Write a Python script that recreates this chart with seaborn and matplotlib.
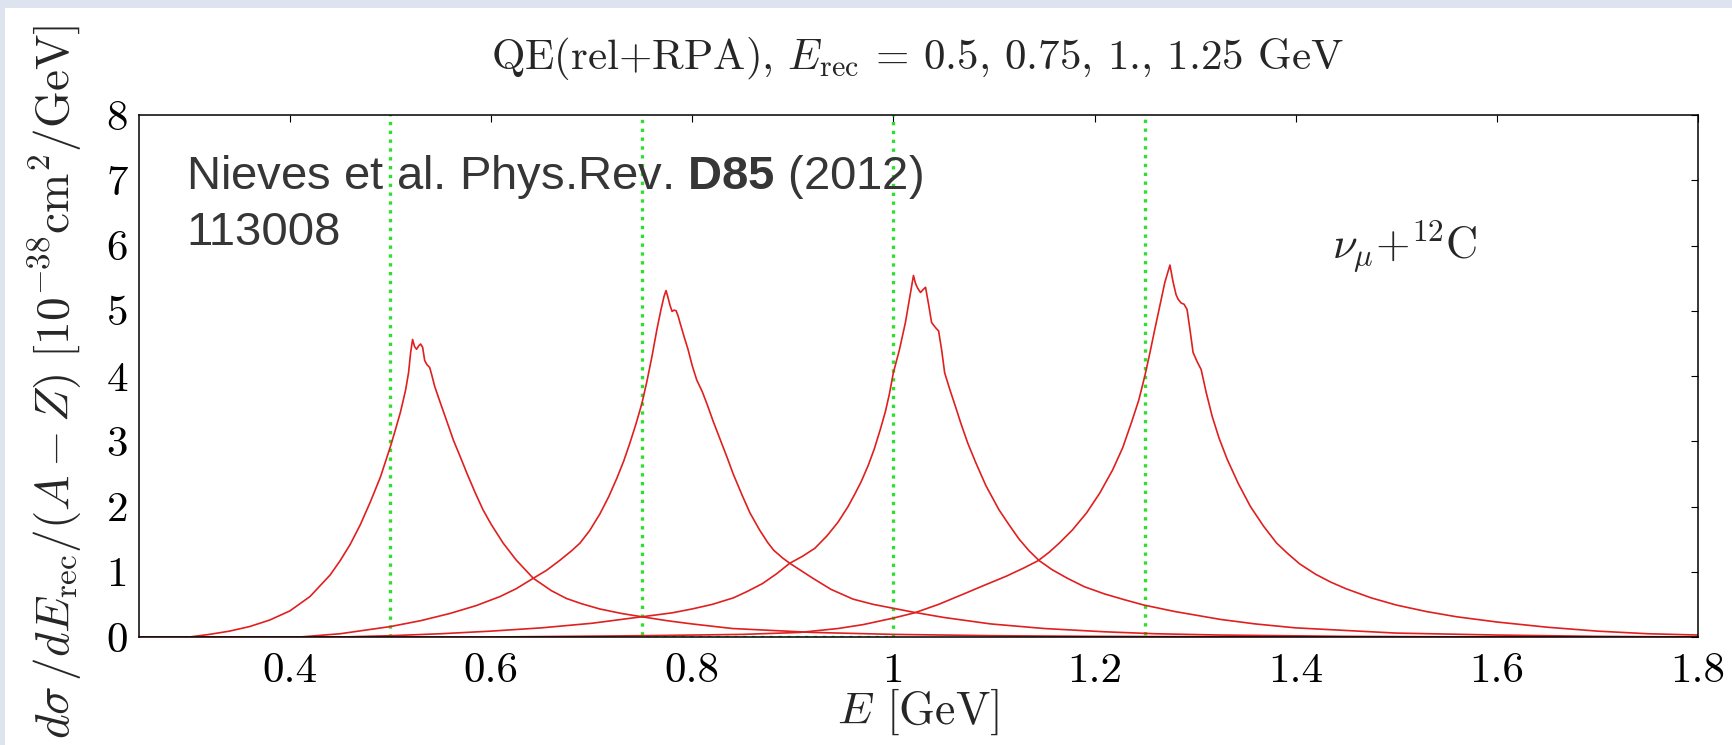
import numpy as np
import pandas as pd
import matplotlib
matplotlib.use("Agg")
import matplotlib.pyplot as plt
import seaborn as sns
from matplotlib.patches import Rectangle
from matplotlib.ticker import FixedLocator, FuncFormatter

# ---------------- data ----------------
E_REC = [0.5, 0.75, 1.0, 1.25]          # reconstructed energies (green dotted markers)

E_1 = [0.25, 0.30, 0.32, 0.34, 0.36, 0.38, 0.40, 0.42, 0.44, 0.45, 0.46, 0.47, 0.48, 0.49,
       0.50, 0.505, 0.51, 0.515, 0.518, 0.520, 0.522, 0.524, 0.526, 0.528, 0.530, 0.532,
       0.534, 0.536, 0.539, 0.541, 0.544, 0.548, 0.553, 0.558, 0.5625, 0.57, 0.576, 0.584,
       0.592, 0.60, 0.612, 0.625, 0.642, 0.66, 0.675, 0.69, 0.708, 0.73, 0.75, 0.775,
       0.80, 0.84, 0.88, 0.92, 1.0, 1.1, 1.2, 1.4, 1.8]
V_1 = [0.0, 0.0, 0.04, 0.09, 0.16, 0.26, 0.40, 0.62, 0.95, 1.17, 1.42, 1.72, 2.07, 2.45,
       2.92, 3.18, 3.45, 3.78, 4.05, 4.35, 4.56, 4.45, 4.41, 4.46, 4.49, 4.44,
       4.24, 4.18, 4.13, 4.02, 3.84, 3.66, 3.44, 3.22, 3.02, 2.74, 2.51, 2.22,
       1.95, 1.73, 1.44, 1.18, 0.90, 0.71, 0.59, 0.51, 0.43, 0.36, 0.31, 0.25,
       0.20, 0.13, 0.10, 0.07, 0.04, 0.02, 0.01, 0.0, 0.0]

E_2 = [0.25, 0.41, 0.45, 0.50, 0.53, 0.559, 0.585, 0.609, 0.625, 0.642, 0.655, 0.668, 0.68,
       0.6885, 0.698, 0.708, 0.717, 0.725, 0.732, 0.738, 0.744, 0.75, 0.755, 0.760, 0.765,
       0.769, 0.772, 0.774, 0.776, 0.778, 0.780, 0.782, 0.784, 0.786, 0.788, 0.792, 0.796,
       0.800, 0.8045, 0.81, 0.8145, 0.821, 0.828, 0.835, 0.841, 0.85, 0.8575, 0.867, 0.875,
       0.881, 0.89, 0.897, 0.907, 0.92, 0.938, 0.96, 0.98, 1.0, 1.02, 1.05, 1.097, 1.15,
       1.21, 1.26, 1.325, 1.45, 1.6, 1.8]
V_2 = [0.0, 0.0, 0.05, 0.16, 0.25, 0.36, 0.48, 0.62, 0.74, 0.90, 1.02, 1.17, 1.32,
       1.44, 1.63, 1.88, 2.15, 2.43, 2.70, 2.97, 3.26, 3.58, 3.92, 4.30, 4.72,
       5.02, 5.22, 5.31, 5.20, 5.08, 4.99, 5.01, 5.00, 4.92, 4.81, 4.60, 4.40,
       4.16, 3.94, 3.76, 3.58, 3.30, 3.02, 2.74, 2.49, 2.16, 1.90, 1.64, 1.45,
       1.33, 1.21, 1.13, 1.03, 0.90, 0.73, 0.58, 0.50, 0.44, 0.38, 0.30, 0.20, 0.13,
       0.08, 0.05, 0.03, 0.01, 0.0, 0.0]

E_3 = [0.25, 0.45, 0.5, 0.55, 0.6, 0.65, 0.7, 0.75, 0.78, 0.80, 0.82, 0.841, 0.855, 0.87,
       0.884, 0.897, 0.91, 0.922, 0.934, 0.945, 0.955, 0.962, 0.968, 0.975, 0.981, 0.987,
       0.992, 0.996, 1.0, 1.006, 1.012, 1.016, 1.020, 1.022, 1.024, 1.027, 1.030, 1.032,
       1.035, 1.038, 1.042, 1.045, 1.048, 1.051, 1.056, 1.062, 1.067, 1.074, 1.082, 1.092,
       1.105, 1.115, 1.125, 1.135, 1.145, 1.158, 1.173, 1.19, 1.21, 1.23, 1.249, 1.28,
       1.325, 1.36, 1.40, 1.45, 1.50, 1.6, 1.7, 1.8]
V_3 = [0.0, 0.0, 0.02, 0.05, 0.09, 0.14, 0.21, 0.31, 0.37, 0.43, 0.50, 0.60, 0.70, 0.82,
       0.97, 1.13, 1.24, 1.36, 1.55, 1.76, 2.00, 2.20, 2.38, 2.63, 2.88, 3.18,
       3.45, 3.72, 4.05, 4.40, 4.82, 5.18, 5.54, 5.42, 5.35, 5.28, 5.33, 5.36,
       5.10, 4.82, 4.74, 4.69, 4.40, 4.05, 3.80, 3.52, 3.28, 2.97, 2.67, 2.32,
       1.95, 1.72, 1.50, 1.32, 1.17, 1.03, 0.90, 0.77, 0.66, 0.57, 0.49, 0.39,
       0.27, 0.20, 0.14, 0.10, 0.06, 0.03, 0.01, 0.0]

E_4 = [0.25, 0.6, 0.75, 0.85, 0.907, 0.945, 0.97, 1.0, 1.021, 1.045, 1.07, 1.09, 1.112,
       1.13, 1.144, 1.155, 1.165, 1.178, 1.192, 1.205, 1.218, 1.228, 1.237, 1.244, 1.25,
       1.255, 1.26, 1.265, 1.27, 1.275, 1.278, 1.281, 1.283, 1.286, 1.289, 1.292, 1.295,
       1.298, 1.302, 1.306, 1.311, 1.317, 1.324, 1.332, 1.343, 1.355, 1.368, 1.381, 1.392,
       1.404, 1.42, 1.435, 1.45, 1.475, 1.50, 1.53, 1.56, 1.60, 1.65, 1.70, 1.75, 1.80]
V_4 = [0.0, 0.0, 0.02, 0.04, 0.07, 0.13, 0.19, 0.29, 0.37, 0.50, 0.66, 0.79, 0.93,
       1.06, 1.17, 1.30, 1.44, 1.64, 1.90, 2.20, 2.56, 2.90, 3.30, 3.63, 4.00,
       4.35, 4.72, 5.08, 5.44, 5.70, 5.45, 5.25, 5.18, 5.12, 5.10, 5.02, 4.70,
       4.36, 4.22, 4.10, 3.75, 3.38, 3.04, 2.72, 2.35, 2.00, 1.70, 1.44, 1.28,
       1.12, 0.96, 0.84, 0.74, 0.60, 0.49, 0.39, 0.31, 0.23, 0.15, 0.09, 0.05, 0.03]

CURVES = [(E_1, V_1), (E_2, V_2), (E_3, V_3), (E_4, V_4)]

X_TICKS = [0.4, 0.6, 0.8, 1.0, 1.2, 1.4, 1.6, 1.8]
Y_TICKS = [0, 1, 2, 3, 4, 5, 6, 7, 8]
X_LIM = (0.25, 1.8)
Y_LIM = (0, 8)

TITLE = r"QE(rel+RPA), $E_{\rm rec}$ = 0.5, 0.75, 1., 1.25 GeV"
XLABEL = r"$E$ [GeV]"
YLABEL = r"$d\sigma\,/dE_{\rm rec}/(A-Z)\ [10^{-38}{\rm cm}^2/{\rm GeV}]$"
REF_TEXT = "Nieves et al. Phys.Rev. $\\mathbf{D85}$ (2012)\n113008"
TARGET = r"$\nu_\mu{+}^{12}{\rm C}$"

RED = "#e01f1f"
GREEN = "#2ee02e"
BG = "#dde4f0"

# ---------------- style ----------------
sns.set_style("white")
plt.rcParams.update({
    "font.family": ["cmr10", "DejaVu Sans"],
    "mathtext.fontset": "cm",
    "mathtext.rm": "Liberation Sans",
    "mathtext.bf": "Liberation Sans:bold",
    "mathtext.it": "Liberation Sans:italic",
    "axes.formatter.use_mathtext": True,
    "axes.unicode_minus": False,
})

W, H = 1733, 745
fig = plt.figure(figsize=(W / 100, H / 100), dpi=100)
fig.patch.set_facecolor(BG)
fig.add_artist(Rectangle((5 / W, 0), 1 - 5 / W, 1 - 8 / H, transform=fig.transFigure,
                         facecolor="white", edgecolor="none", zorder=0))

L, R, T, B = 139, 1698, 115, 637
ax = fig.add_axes([L / W, 1 - B / H, (R - L) / W, (B - T) / H])
ax.set_facecolor("white")

# green dotted markers at E_rec, drawn as one square-wave path whose upper
# horizontal runs lie outside the axes (clipped away)
top = Y_LIM[1] * 1.05
gx, gy = [], []
for i, e in enumerate(E_REC):
    gx += [e, e]
    gy += [Y_LIM[0], top] if i % 2 == 0 else [top, Y_LIM[0]]
sns.lineplot(x=gx, y=gy, ax=ax, sort=False, estimator=None, color=GREEN,
             linestyle=":", linewidth=2.4, zorder=2)

for e, v in CURVES:
    sns.lineplot(x=e, y=v, ax=ax, sort=False, estimator=None, color=RED,
                 linewidth=1.2, zorder=3)

ax.set_xlim(*X_LIM)
ax.set_ylim(*Y_LIM)
ax.xaxis.set_major_locator(FixedLocator(X_TICKS))
ax.yaxis.set_major_locator(FixedLocator(Y_TICKS))
ax.xaxis.set_major_formatter(FuncFormatter(lambda v, p: f"{v:g}"))
ax.yaxis.set_major_formatter(FuncFormatter(lambda v, p: f"{v:g}"))
ax.tick_params(direction="in", length=5, width=0.8, top=True, right=True,
               labelsize=31, colors="black")
ax.tick_params(axis="x", pad=11)
ax.tick_params(axis="y", pad=8)
for s in ax.spines.values():
    s.set_color("black")
    s.set_linewidth(1.1)
    s.set_zorder(4)
ax.set_xlabel("")
ax.set_ylabel("")

fig.text(918 / W, 1 - 59 / H, TITLE, ha="center", va="center", fontsize=31)
fig.text(918 / W, 1 - 712 / H, XLABEL, ha="center", va="center", fontsize=33)
fig.text(55 / W, 1 - 382 / H, YLABEL, ha="center", va="center", rotation=90, fontsize=34)

ax.text((186 - L) / (R - L), (B - 153) / (B - T), REF_TEXT, transform=ax.transAxes,
        ha="left", va="top", fontsize=34, family="Liberation Sans", color="#363636",
        math_fontfamily="custom", linespacing=1.3, zorder=5)
ax.text(1.436, 5.8, TARGET, ha="left", va="baseline", fontsize=32, zorder=5)

fig.savefig("out.png", dpi=100, facecolor=fig.get_facecolor())
